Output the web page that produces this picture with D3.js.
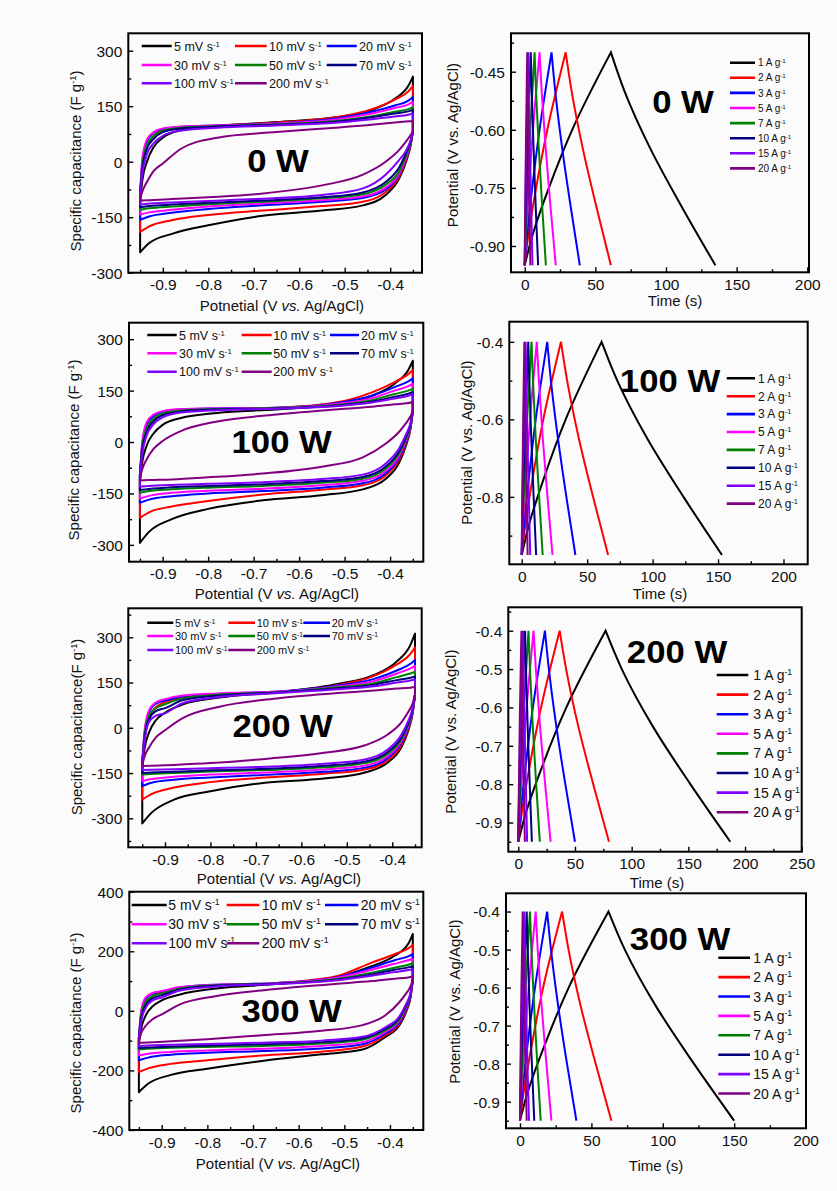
<!DOCTYPE html>
<html>
<head>
<meta charset="utf-8">
<script src="https://cdn.jsdelivr.net/npm/d3@7"></script>
<style>
  html, body { margin: 0; padding: 0; background: #fbfbfb; }
  svg { display: block; }
</style>
</head>
<body>
<script>
// ---------------- data ----------------
const scanRates = [5, 10, 20, 30, 50, 70, 100, 200];          // mV s-1
const currentDensities = [1, 2, 3, 5, 7, 10, 15, 20];          // A g-1
const seriesColors = ["#000000", "#ff0000", "#0000ff", "#ff00ff", "#008000", "#000080", "#8000ff", "#800080"];
const powerLabels = ["0 W", "100 W", "200 W", "300 W"];

// CV potential grid (V vs. Ag/AgCl): anodic sweep, then cathodic sweep
const cvFwdPotential = [-0.95, -0.945, -0.935, -0.92, -0.90, -0.86, -0.78, -0.65, -0.52, -0.44, -0.39, -0.36, -0.35];
const cvRevPotential = [-0.35, -0.355, -0.365, -0.38, -0.41, -0.46, -0.55, -0.68, -0.80, -0.88, -0.93, -0.95];

// Specific capacitance (F g-1), one row per scan rate
const cvFwd0W = [
  [-110, -50, 0, 40, 65, 85, 96, 107, 120, 140, 170, 205, 230],
  [-100, -20, 40, 70, 85, 93, 98, 106, 120, 142, 168, 190, 205],
  [-90, 0, 55, 78, 88, 94, 98, 104, 117, 135, 152, 165, 175],
  [-85, 10, 60, 80, 90, 95, 98, 103, 114, 130, 145, 155, 162],
  [-85, -10, 45, 70, 84, 92, 96, 101, 110, 123, 135, 142, 147],
  [-85, -20, 35, 62, 80, 90, 95, 100, 108, 120, 130, 136, 140],
  [-85, -30, 20, 50, 70, 84, 92, 98, 105, 115, 122, 127, 130],
  [-100, -80, -55, -25, -5, 35, 65, 80, 92, 100, 106, 109, 110]
];
const cvRev0W = [
  [82, 45, 0, -45, -90, -118, -132, -146, -172, -195, -220, -245],
  [82, 45, 5, -40, -82, -108, -120, -132, -144, -158, -175, -190],
  [82, 48, 10, -35, -75, -98, -108, -118, -128, -138, -148, -157],
  [82, 50, 12, -32, -70, -94, -104, -113, -121, -130, -137, -143],
  [82, 52, 18, -25, -62, -88, -99, -108, -115, -121, -126, -130],
  [82, 55, 24, -15, -55, -83, -96, -105, -111, -116, -120, -123],
  [82, 58, 30, 5, -35, -72, -90, -100, -106, -110, -113, -116],
  [82, 72, 55, 32, 0, -35, -64, -86, -96, -101, -104, -105]
];
const cvFwd100W = [
  [-120, -60, -10, 25, 50, 70, 85, 95, 110, 135, 170, 210, 237],
  [-110, -30, 30, 62, 80, 92, 97, 100, 115, 145, 175, 198, 210],
  [-100, -10, 50, 75, 88, 95, 98, 100, 113, 135, 160, 177, 185],
  [-95, 0, 58, 80, 90, 96, 98, 100, 111, 128, 150, 163, 170],
  [-95, -15, 40, 68, 83, 92, 96, 99, 108, 122, 140, 150, 155],
  [-95, -25, 30, 60, 78, 89, 95, 98, 106, 118, 132, 141, 145],
  [-95, -35, 20, 52, 72, 86, 93, 97, 104, 115, 127, 135, 140],
  [-105, -80, -50, -20, 3, 32, 60, 80, 95, 103, 110, 114, 117]
];
const cvRev100W = [
  [90, 40, -10, -60, -108, -138, -155, -170, -195, -225, -262, -294],
  [90, 42, -5, -52, -98, -126, -139, -153, -172, -188, -205, -221],
  [90, 45, 0, -45, -92, -120, -133, -143, -150, -158, -168, -177],
  [90, 48, 5, -40, -85, -113, -126, -136, -142, -148, -157, -165],
  [90, 50, 10, -33, -78, -107, -119, -128, -133, -138, -143, -148],
  [90, 53, 15, -27, -72, -102, -114, -123, -128, -132, -137, -140],
  [90, 56, 22, -18, -63, -95, -108, -117, -122, -125, -128, -130],
  [90, 75, 55, 30, -5, -45, -72, -92, -103, -109, -111, -112]
];
const cvFwd200W = [
  [-130, -70, -15, 25, 50, 78, 100, 118, 145, 175, 220, 275, 312],
  [-125, -40, 30, 68, 85, 100, 110, 118, 142, 172, 210, 245, 267],
  [-120, -20, 50, 80, 90, 104, 113, 120, 140, 162, 190, 212, 225],
  [-115, -10, 58, 84, 95, 107, 114, 120, 137, 155, 180, 197, 205],
  [-115, -25, 40, 65, 78, 98, 110, 118, 134, 148, 168, 180, 185],
  [-115, -35, 30, 55, 65, 92, 107, 117, 131, 143, 158, 166, 170],
  [-115, -45, 20, 40, 48, 82, 102, 115, 128, 138, 150, 157, 160],
  [-125, -95, -65, -32, -8, 33, 70, 98, 115, 124, 130, 133, 135]
];
const cvRev200W = [
  [110, 50, -10, -65, -115, -148, -168, -182, -210, -238, -282, -317],
  [110, 52, -5, -58, -108, -138, -152, -165, -180, -198, -220, -238],
  [110, 55, 0, -50, -100, -132, -146, -156, -165, -172, -182, -193],
  [110, 58, 5, -45, -94, -125, -138, -148, -155, -162, -170, -177],
  [110, 60, 10, -38, -87, -117, -131, -140, -145, -150, -153, -155],
  [110, 63, 15, -32, -80, -112, -126, -136, -141, -146, -148, -150],
  [110, 66, 22, -23, -72, -105, -119, -129, -134, -137, -139, -140],
  [110, 82, 52, 18, -22, -58, -83, -103, -117, -123, -126, -127]
];
const cvFwd300W = [
  [-110, -60, -15, 15, 35, 55, 75, 90, 112, 150, 185, 225, 258],
  [-100, -30, 25, 50, 62, 75, 86, 93, 115, 162, 190, 210, 221],
  [-95, -10, 40, 58, 65, 78, 88, 93, 112, 145, 170, 183, 190],
  [-90, 0, 45, 60, 66, 80, 88, 93, 110, 138, 158, 170, 175],
  [-90, -15, 30, 50, 58, 75, 86, 92, 106, 128, 145, 155, 160],
  [-90, -25, 20, 42, 52, 72, 85, 91, 104, 122, 138, 146, 150],
  [-90, -35, 10, 35, 45, 68, 82, 90, 102, 118, 130, 137, 140],
  [-100, -75, -50, -28, -12, 22, 50, 73, 90, 100, 108, 112, 115]
];
const cvRev300W = [
  [105, 45, -5, -50, -88, -130, -146, -168, -194, -215, -245, -273],
  [105, 48, 0, -45, -82, -120, -137, -150, -166, -178, -193, -206],
  [105, 50, 5, -40, -76, -112, -126, -135, -141, -147, -157, -166],
  [105, 53, 10, -35, -71, -105, -118, -127, -133, -138, -144, -150],
  [105, 55, 14, -30, -65, -97, -110, -118, -121, -124, -127, -130],
  [105, 58, 18, -25, -60, -92, -105, -112, -117, -120, -123, -125],
  [105, 60, 22, -20, -55, -87, -100, -107, -111, -114, -116, -118],
  [105, 82, 58, 28, -15, -48, -67, -82, -95, -102, -106, -108]
];

// GCD potential levels (V) and the times (s) at which each curve reaches them
const gcdChargePotential = [-0.95, -0.88, -0.75, -0.60, -0.40];
const gcdDischargePotential = [-0.40, -0.50, -0.65, -0.80, -0.95];

const gcdCharge0W = [
  [0, 4.9, 17.1, 33.6, 61], [0, 2.3, 8.1, 16, 29], [0, 1.5, 5.3, 10.5, 19], [0, 0.8, 2.9, 5.8, 10.5],
  [0, 0.6, 2, 3.9, 7], [0, 0.3, 1.2, 2.4, 4.3], [0, 0.2, 0.7, 1.4, 2.6], [0, 0.15, 0.5, 1, 1.8]
];
const gcdDischarge0W = [
  [61, 70.6, 89.1, 111.3, 135], [29, 33.2, 41.2, 50.8, 61], [19, 21.6, 26.6, 32.6, 39], [10.5, 12, 14.9, 18.3, 22],
  [7, 8, 10, 12.4, 15], [4.3, 5, 6.3, 7.8, 9.5], [2.6, 3, 3.7, 4.6, 5.5], [1.8, 2.1, 2.6, 3.3, 4]
];
const gcdCharge100W = [
  [0, 4.9, 17.1, 33.6, 61], [0, 2.4, 8.4, 16.5, 30], [0, 1.6, 5.5, 10.7, 19.5], [0, 0.9, 3.2, 6.3, 11.5],
  [0, 0.6, 2.1, 4.1, 7.5], [0, 0.4, 1.4, 2.8, 5], [0, 0.2, 0.8, 1.7, 3], [0, 0.2, 0.6, 1.1, 2]
];
const gcdDischarge100W = [
  [61, 73, 96, 123.6, 153], [30, 34.7, 43.7, 54.5, 66], [19.5, 22.3, 27.7, 34.1, 41], [11.5, 13.1, 16.1, 19.7, 23.5],
  [7.5, 8.6, 10.7, 13.3, 16], [5, 5.8, 7.3, 9.1, 11], [3, 3.5, 4.3, 5.4, 6.5], [2, 2.3, 3, 3.7, 4.5]
];
const gcdCharge200W = [
  [0, 6.2, 21.6, 42.4, 77], [0, 2.9, 10.2, 20.1, 36.5], [0, 1.9, 6.6, 12.9, 23.5], [0, 1.1, 3.8, 7.4, 13.5],
  [0, 0.7, 2.5, 5, 9], [0, 0.5, 1.7, 3.3, 6], [0, 0.3, 1.2, 2.3, 4.2], [0, 0.2, 0.8, 1.5, 2.8]
];
const gcdDischarge200W = [
  [77, 91.3, 118.8, 151.8, 187], [36.5, 42.2, 53, 66.1, 80], [23.5, 27, 33.6, 41.5, 50], [13.5, 15.5, 19.2, 23.7, 28.5],
  [9, 10.3, 12.8, 15.8, 19], [6, 6.8, 8.3, 10.1, 12], [4.2, 4.7, 5.6, 6.7, 7.8], [2.8, 3.2, 3.9, 4.8, 5.8]
];
const gcdCharge300W = [
  [0, 5, 17.4, 34.1, 62], [0, 2.4, 8.3, 16.2, 29.5], [0, 1.5, 5.3, 10.5, 19], [0, 0.9, 3.1, 6.1, 11],
  [0, 0.6, 2, 3.9, 7], [0, 0.4, 1.3, 2.6, 4.7], [0, 0.2, 0.8, 1.7, 3], [0, 0.2, 0.5, 1, 1.9]
];
const gcdDischarge300W = [
  [62, 73.4, 95.4, 121.8, 150], [29.5, 34, 42.6, 53, 64], [19, 21.7, 26.8, 32.9, 39.5], [11, 12.4, 15.2, 18.5, 22],
  [7, 8, 9.9, 12.1, 14.5], [4.7, 5.4, 6.7, 8.3, 10], [3, 3.4, 4.3, 5.2, 6.3], [1.9, 2.3, 3, 3.8, 4.7]
];

// Axis tick values
const cvPotentialTicks = [-0.9, -0.8, -0.7, -0.6, -0.5, -0.4];
const cvPotentialMinor = [-0.95, -0.85, -0.75, -0.65, -0.55, -0.45, -0.35];
const capTicks150 = [-300, -150, 0, 150, 300];
const capMinor150 = [-375, -225, -75, 75, 225, 375];
const capTicks200 = [-400, -200, 0, 200, 400];
const capMinor200 = [-300, -100, 100, 300];
const timeTicks200 = [0, 50, 100, 150, 200];
const timeTicks250 = [0, 50, 100, 150, 200, 250];
const timeMinor = [25, 75, 125, 175, 225];
const gcdV0WTicks = [-0.90, -0.75, -0.60, -0.45];
const gcdV0WMinor = [-0.825, -0.675, -0.525, -0.375];
const gcdV100WTicks = [-0.8, -0.6, -0.4];
const gcdV100WMinor = [-0.9, -0.7, -0.5];
const gcdVTicks = [-0.9, -0.8, -0.7, -0.6, -0.5, -0.4];
const gcdVMinor = [-0.95, -0.85, -0.75, -0.65, -0.55, -0.45, -0.35];

// ---------------- layout ----------------
const FONT = '"Liberation Sans", Arial, Helvetica, sans-serif';
const loc = d3.formatLocale({decimal: ".", thousands: ",", grouping: [3], currency: ["", ""], minus: "-"});
const f0 = loc.format("d"), f1 = loc.format(".1f"), f2 = loc.format(".2f");

const cvPanels = [
  {fwd: cvFwd0W, rev: cvRev0W, tag: powerLabels[0],
   box: {x: 128.3, y: 33.3, w: 293.7, h: 239.4}, xDom: [-0.976, -0.33], yDom: [-300, 347],
   yTicks: capTicks150, yMinor: capMinor150,
   xTitle: "Potnetial", xTitleX: 282, xTitleY: 311, yTitle: "Specific capacitance (F g", yTitleX: 80.5, yTitleY: 161,
   legend: {rows: [46, 65, 83.3], cols: [[141.7, 171.7, 174], [235, 266.7, 269], [326.7, 356.7, 359]], size: 12.5},
   tagPos: [278, 172]},
  {fwd: cvFwd100W, rev: cvRev100W, tag: powerLabels[1],
   box: {x: 129, y: 322.7, w: 294.3, h: 239}, xDom: [-0.974, -0.327], yDom: [-349, 348],
   yTicks: capTicks150, yMinor: capMinor150,
   xTitle: "Potential", xTitleX: 277, xTitleY: 599, yTitle: "Specific capacitance (F g", yTitleX: 79, yTitleY: 450,
   legend: {rows: [335, 353.3, 371.7], cols: [[147.3, 176.7, 179], [241.7, 271.7, 273.3], [330, 359, 361]], size: 12.5},
   tagPos: [281.7, 453]},
  {fwd: cvFwd200W, rev: cvRev200W, tag: powerLabels[2],
   box: {x: 128.3, y: 608.3, w: 293.4, h: 239}, xDom: [-0.9807, -0.3353], yDom: [-396, 396],
   yTicks: capTicks150, yMinor: capMinor150,
   xTitle: "Potential", xTitleX: 279, xTitleY: 884, yTitle: "Specific capacitance(F g", yTitleX: 82, yTitleY: 727,
   legend: {rows: [622.7, 636, 650], cols: [[147.3, 173.3, 175], [228.3, 255, 256.7], [303.3, 330, 331.7]], size: 11},
   tagPos: [282.7, 737]},
  {fwd: cvFwd300W, rev: cvRev300W, tag: powerLabels[3],
   box: {x: 129.3, y: 891.7, w: 294, h: 238.3}, xDom: [-0.971, -0.327], yDom: [-400, 400],
   yTicks: capTicks200, yMinor: capMinor200,
   xTitle: "Potential", xTitleX: 278, xTitleY: 1169, yTitle: "Specific capacitance (F g", yTitleX: 80.5, yTitleY: 1023,
   legend: {rows: [905, 924.3, 943.3], cols: [[131.7, 166.7, 168.3], [226.7, 259.3, 261.7], [325, 358.3, 360.7]], size: 14},
   tagPos: [291.7, 1022]}
];

const gcdPanels = [
  {charge: gcdCharge0W, discharge: gcdDischarge0W, tag: powerLabels[0],
   box: {x: 511, y: 33.3, w: 298, h: 239}, xDom: [-9.7, 201.2], yDom: [-0.968, -0.3508],
   xTicks: timeTicks200, yTicks: gcdV0WTicks, yMinor: gcdV0WMinor, yFmt: f2,
   xTitleX: 675, xTitleY: 306, yTitleX: 458, yTitleY: 145,
   legend: {x0: 730, x1: 755, tx: 758, y0: 62.7, dy: 15.1, size: 10},
   tagPos: [683, 113]},
  {charge: gcdCharge100W, discharge: gcdDischarge100W, tag: powerLabels[1],
   box: {x: 509.3, y: 321.7, w: 298.4, h: 242.6}, xDom: [-9.5, 218.5], yDom: [-0.974, -0.348],
   xTicks: timeTicks200, yTicks: gcdV100WTicks, yMinor: gcdV100WMinor, yFmt: f1,
   xTitleX: 660, xTitleY: 599, yTitleX: 472, yTitleY: 442.5,
   legend: {x0: 726.7, x1: 755, tx: 758, y0: 378.3, dy: 17.9, size: 12},
   tagPos: [670, 392]},
  {charge: gcdCharge200W, discharge: gcdDischarge200W, tag: powerLabels[2],
   box: {x: 508.3, y: 607.3, w: 293.4, h: 244.4}, xDom: [-8.8, 250], yDom: [-0.976, -0.339],
   xTicks: timeTicks250, yTicks: gcdVTicks, yMinor: gcdVMinor, yFmt: f1,
   xTitleX: 657, xTitleY: 888, yTitleX: 456, yTitleY: 731.7,
   legend: {x0: 716.7, x1: 748.3, tx: 753.3, y0: 675, dy: 19.6, size: 14},
   tagPos: [677, 663]},
  {charge: gcdCharge300W, discharge: gcdDischarge300W, tag: powerLabels[3],
   box: {x: 506, y: 893.3, w: 300, h: 235}, xDom: [-9.8, 200.3], yDom: [-0.97, -0.352],
   xTicks: timeTicks200, yTicks: gcdVTicks, yMinor: gcdVMinor, yFmt: f1,
   xTitleX: 656, xTitleY: 1171, yTitleX: 460.5, yTitleY: 1001.7,
   legend: {x0: 718.3, x1: 750, tx: 753.3, y0: 957.7, dy: 19.4, size: 14},
   tagPos: [680, 950]}
];

// ---------------- drawing ----------------
const svg = d3.select("body").append("svg").attr("width", 837).attr("height", 1191)
  .style("font-family", FONT);
svg.append("rect").attr("width", 837).attr("height", 1191).attr("fill", "#fbfbfb");

let clipId = 0;
function makePanel(box, xDom, yDom) {
  const x = d3.scaleLinear().domain(xDom).range([box.x, box.x + box.w]);
  const y = d3.scaleLinear().domain(yDom).range([box.y + box.h, box.y]);
  const g = svg.append("g");
  const id = "plotclip" + (clipId++);
  g.append("clipPath").attr("id", id).append("rect")
    .attr("x", box.x).attr("y", box.y).attr("width", box.w).attr("height", box.h);
  const plot = g.append("g").attr("clip-path", `url(#${id})`);
  return {x, y, g, plot};
}

function inRange(vals, dom) {
  const lo = Math.min(dom[0], dom[1]), hi = Math.max(dom[0], dom[1]);
  return vals.filter(v => v >= lo && v <= hi);
}

function drawAxes(g, x, y, box, xTicks, xMinor, yTicks, yMinor, xFmt, yFmt) {
  const bottom = box.y + box.h;
  // inward ticks
  const bx = g.append("g").attr("transform", `translate(0,${bottom})`)
    .call(d3.axisBottom(x).tickValues(inRange(xTicks, x.domain())).tickFormat(xFmt).tickSizeInner(-5).tickSizeOuter(0));
  bx.selectAll("text").attr("y", 17.5).attr("dy", null);
  g.append("g").attr("transform", `translate(0,${bottom})`)
    .call(d3.axisBottom(x).tickValues(inRange(xMinor, x.domain())).tickFormat("").tickSizeInner(-3).tickSizeOuter(0));
  const ly = g.append("g").attr("transform", `translate(${box.x},0)`)
    .call(d3.axisLeft(y).tickValues(inRange(yTicks, y.domain())).tickFormat(yFmt).tickSizeInner(-5).tickSizeOuter(0));
  ly.selectAll("text").attr("x", -6).attr("dy", "0.35em");
  g.append("g").attr("transform", `translate(${box.x},0)`)
    .call(d3.axisLeft(y).tickValues(inRange(yMinor, y.domain())).tickFormat("").tickSizeInner(-3).tickSizeOuter(0));
  g.selectAll(".domain").remove();
  g.selectAll(".tick line").attr("stroke", "#000").attr("stroke-width", 1.4);
  g.selectAll(".tick text").attr("fill", "#111").style("font-family", FONT).style("font-size", "15.5px");
  g.append("rect").attr("x", box.x).attr("y", box.y).attr("width", box.w).attr("height", box.h)
    .attr("fill", "none").attr("stroke", "#000").attr("stroke-width", 2);
}

// text made of runs: plain, italic, or superscript
function richText(parent, x, y, runs, size, opts = {}) {
  const t = parent.append("text").attr("x", x).attr("y", y)
    .attr("text-anchor", opts.anchor || "middle").attr("fill", "#111")
    .style("font-size", size + "px");
  if (opts.rotate) t.attr("transform", `rotate(-90,${x},${y})`);
  runs.forEach(r => {
    const s = t.append("tspan").text(r.t);
    if (r.italic) s.style("font-style", "italic");
    if (r.sup) s.attr("baseline-shift", "super").style("font-size", (size * 0.62) + "px");
  });
  return t;
}

function bigTag(parent, pos, label) {
  parent.append("text")
    .attr("transform", `translate(${pos[0]},${pos[1]}) scale(1.12,1)`)
    .attr("text-anchor", "middle").attr("fill", "#000")
    .style("font-weight", "bold").style("font-size", "31px")
    .text(label);
}

// ---- cyclic voltammetry panels ----
cvPanels.forEach(p => {
  const {x, y, g, plot} = makePanel(p.box, p.xDom, p.yDom);
  const line = d3.line().x(d => x(d[0])).y(d => y(d[1])).curve(d3.curveMonotoneX);
  scanRates.forEach((rate, k) => {
    const up = cvFwdPotential.map((v, i) => [v, p.fwd[k][i]]);
    const dn = cvRevPotential.map((v, i) => [v, p.rev[k][i]]);
    plot.append("path")
      .attr("d", line(up) + line(dn).replace(/^M/, "L") + "Z")
      .attr("fill", "none").attr("stroke", seriesColors[k]).attr("stroke-width", 2)
      .attr("stroke-linejoin", "round");
  });
  // legend (3 columns, row-major)
  const lg = plot.append("g");
  scanRates.forEach((rate, k) => {
    const row = Math.floor(k / 3), col = k % 3;
    const c = p.legend.cols[col], ry = p.legend.rows[row];
    lg.append("line").attr("x1", c[0]).attr("x2", c[1]).attr("y1", ry).attr("y2", ry)
      .attr("stroke", seriesColors[k]).attr("stroke-width", 2.6);
    richText(lg, c[2], ry + p.legend.size * 0.36, [{t: rate + " mV s"}, {t: "-1", sup: true}], p.legend.size, {anchor: "start"});
  });
  bigTag(plot, p.tagPos, p.tag);
  drawAxes(g, x, y, p.box, cvPotentialTicks, cvPotentialMinor, p.yTicks, p.yMinor, f1, f0);
  richText(g, p.xTitleX, p.xTitleY, [{t: p.xTitle + " (V "}, {t: "vs.", italic: true}, {t: " Ag/AgCl)"}], 15);
  richText(g, p.yTitleX, p.yTitleY, [{t: p.yTitle}, {t: "-1", sup: true}, {t: ")"}], 15, {rotate: true});
});

// ---- galvanostatic charge-discharge panels ----
gcdPanels.forEach(p => {
  const {x, y, g, plot} = makePanel(p.box, p.xDom, p.yDom);
  const line = d3.line().x(d => x(d[0])).y(d => y(d[1])).curve(d3.curveMonotoneY);
  currentDensities.forEach((cd, k) => {
    const ch = gcdChargePotential.map((v, i) => [p.charge[k][i], v]);
    const dc = gcdDischargePotential.map((v, i) => [p.discharge[k][i], v]);
    plot.append("path")
      .attr("d", line(ch) + line(dc).replace(/^M/, "L"))
      .attr("fill", "none").attr("stroke", seriesColors[k]).attr("stroke-width", 2)
      .attr("stroke-linejoin", "miter");
  });
  const L = p.legend;
  const lg = plot.append("g");
  currentDensities.forEach((cd, k) => {
    const ry = L.y0 + k * L.dy;
    lg.append("line").attr("x1", L.x0).attr("x2", L.x1).attr("y1", ry).attr("y2", ry)
      .attr("stroke", seriesColors[k]).attr("stroke-width", 2.6);
    richText(lg, L.tx, ry + L.size * 0.36, [{t: cd + " A g"}, {t: "-1", sup: true}], L.size, {anchor: "start"});
  });
  bigTag(plot, p.tagPos, p.tag);
  drawAxes(g, x, y, p.box, p.xTicks, timeMinor, p.yTicks, p.yMinor, f0, p.yFmt);
  richText(g, p.xTitleX, p.xTitleY, [{t: "Time (s)"}], 15);
  richText(g, p.yTitleX, p.yTitleY, [{t: "Potential (V vs. Ag/AgCl)"}], 15, {rotate: true});
});
</script>
</body>
</html>
